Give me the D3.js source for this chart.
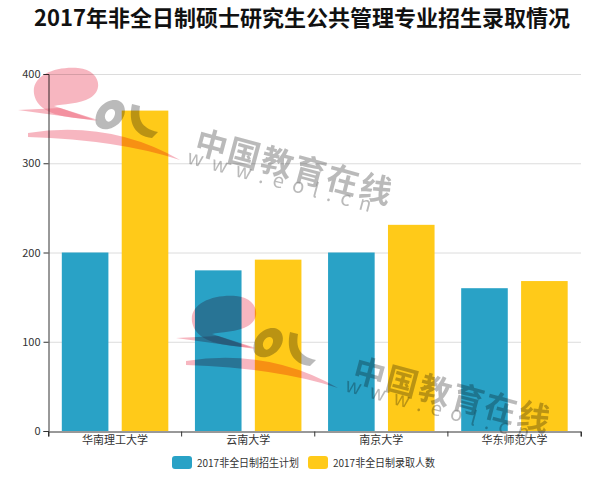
<!DOCTYPE html>
<meta charset="utf-8">
<style>
body { margin: 0; background: #fff; }
svg text { font-family: "Noto Sans CJK SC", "Noto Sans", sans-serif; }
.grid line { stroke: #dcdcdc; }
.axis path, .axis line { stroke: #333; }
.axis text { fill: #333; font-size: 11px; }
</style>
<svg width="600" height="479"></svg>
<script src="https://d3js.org/d3.v7.min.js"></script>
<script>

var schools = ["华南理工大学", "云南大学", "南京大学", "华东师范大学"];
var planned = [200, 180, 200, 160];
var admitted = [359, 192, 231, 168];
var seriesNames = ["2017非全日制招生计划", "2017非全日制录取人数"];
var colors = ["#29a2c6", "#ffca19"];
var yTicks = [0, 100, 200, 300, 400];

var svg = d3.select("svg");
var plotL = 48.5, plotR = 581, plotT = 74, plotB = 431;

// title
svg.append("text")
    .attr("x", 302).attr("y", 26)
    .attr("text-anchor", "middle")
    .style("font-size", "22px").style("font-weight", "bold")
    .attr("fill", "#111")
    .text("2017年非全日制硕士研究生公共管理专业招生录取情况");

var x = d3.scaleBand().domain(schools).range([plotL, plotR]);
var y = d3.scaleLinear().domain([0, 400]).range([plotB, plotT]);

// grid lines
svg.append("g").attr("class", "grid")
  .selectAll("line")
  .data(yTicks.slice(1))
  .enter().append("line")
    .attr("x1", plotL).attr("x2", plotR)
    .attr("y1", function(d) { return y(d) + 0.5; })
    .attr("y2", function(d) { return y(d) + 0.5; });

// bars
var bw = x.bandwidth();
[planned, admitted].forEach(function(vals, s) {
  svg.append("g")
    .selectAll("rect")
    .data(vals)
    .enter().append("rect")
      .attr("x", function(d, i) { return x(schools[i]) + bw * (0.1 + s * 0.45); })
      .attr("width", bw * 0.35)
      .attr("y", function(d) { return y(d); })
      .attr("height", function(d) { return plotB - y(d); })
      .attr("fill", colors[s]);
});

// axes
svg.append("g").attr("class", "axis")
    .attr("transform", "translate(" + plotL + ",0)")
    .call(d3.axisLeft(y).tickValues(yTicks).tickSizeOuter(0).tickSize(5).tickPadding(3));

var xAxis = svg.append("g").attr("class", "axis")
    .attr("transform", "translate(0," + (plotB + 0.5) + ")")
    .call(d3.axisBottom(x).tickSize(0).tickSizeOuter(5).tickPadding(5));
// ticks at band boundaries
xAxis.selectAll(".edge")
  .data(schools.concat([null]))
  .enter().append("line")
    .attr("x1", function(d, i) { return plotL + i * bw; })
    .attr("x2", function(d, i) { return plotL + i * bw; })
    .attr("y1", 0).attr("y2", 5);

// legend
var legend = svg.append("g");
var legX = [172, 308];
seriesNames.forEach(function(name, i) {
  legend.append("rect")
      .attr("x", legX[i]).attr("y", 456)
      .attr("width", 20).attr("height", 13)
      .attr("rx", 3)
      .attr("fill", colors[i]);
  legend.append("text")
      .attr("x", legX[i] + 25).attr("y", 466.5)
      .attr("textLength", 102)
      .attr("lengthAdjust", "spacingAndGlyphs")
      .style("font-size", "11px")
      .attr("fill", "#333")
      .text(name);
});

// eol watermark (drawn twice)
function watermark(dx, dy) {
  var g = svg.append("g")
      .attr("transform", "translate(" + dx + "," + dy + ")")
      .style("mix-blend-mode", "multiply");
  var pink = "rgba(240,110,130,0.5)";
  // the "e": round head with a wedge
  g.append("path")
      .attr("d", "M36,100 C26,78 52,66 78,68 C100,70 104,90 90,98 C80,104 62,104 54,106 L98,120 C70,118 44,116 36,100 Z")
      .attr("fill", pink);
  g.append("path")
      .attr("d", "M18,110 L60,108 L98,121 Z")
      .attr("fill", pink);
  // swoosh
  g.append("path")
      .attr("d", "M28,133 Q110,120 180,160 Q120,140 28,137 Z")
      .attr("fill", pink);
  // grey o
  g.append("path")
      .attr("d", "M96,124 C92,104 118,92 124,106 C130,122 104,138 96,124 Z M106,120 C110,126 118,114 114,110 C110,106 102,114 106,120 Z")
      .attr("fill-rule", "evenodd")
      .attr("fill", "rgba(140,140,140,0.6)");
  // grey l
  g.append("path")
      .attr("d", "M132,104 L140,106 C138,118 140,128 158,132 L152,138 C134,136 128,122 132,104 Z")
      .attr("fill", "rgba(140,140,140,0.6)");
  g.append("text")
      .attr("transform", "translate(193,152) rotate(15)")
      .style("font-size", "32px").style("font-weight", "bold")
      .style("letter-spacing", "2px")
      .attr("fill", "rgba(130,130,130,0.55)")
      .text("中国教育在线");
  g.append("text")
      .attr("transform", "translate(186,163) rotate(15)")
      .style("font-size", "20px")
      .style("letter-spacing", "9px")
      .attr("fill", "rgba(130,130,130,0.55)")
      .text("www.eol.cn");
}
watermark(0, 0);
watermark(158, 228);

</script>
